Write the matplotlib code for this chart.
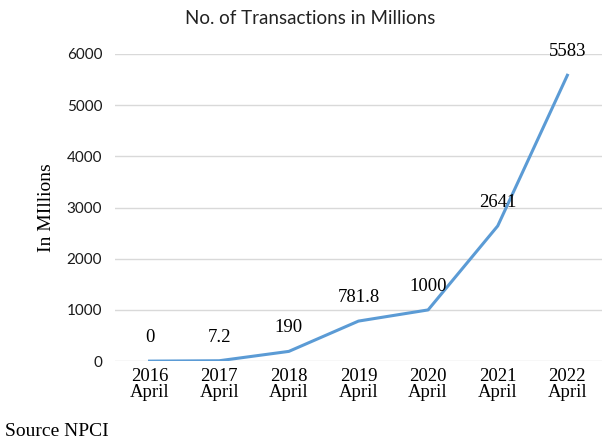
import matplotlib.pyplot as plt

years = ["2016\nApril", "2017\nApril", "2018\nApril", "2019\nApril",
         "2020\nApril", "2021\nApril", "2022\nApril"]
transactions = [0, 7.2, 190, 781.8, 1000, 2641, 5583]
point_labels = ["0", "7.2", "190", "781.8", "1000", "2641", "5583"]
yticks = [0, 1000, 2000, 3000, 4000, 5000, 6000]

fig = plt.figure(figsize=(6.04, 4.42), dpi=100)
ax = fig.add_axes([0.190, 0.183, 0.807, 0.695])

x = range(len(years))
ax.plot(x, transactions, color="#5b9bd5", linewidth=2.2, zorder=3)

# data labels above each point
for i, (v, lab) in enumerate(zip(transactions, point_labels)):
    ax.annotate(lab, (i, v), xytext=(0, 17), textcoords="offset points",
                ha="center", va="center", fontsize=13.5,
                family="Liberation Serif", color="black")

ax.set_xlim(-0.5, len(years) - 0.5)
ax.set_ylim(0, 6000)
ax.set_yticks(yticks)
ax.set_yticklabels([str(t) for t in yticks], family="Lato", fontsize=11, color="#1a1a1a")
ax.set_xticks(list(x))
ax.set_xticklabels(years, family="Liberation Serif", fontsize=13.5, linespacing=0.9)
ax.tick_params(axis="both", length=0)
ax.tick_params(axis="y", pad=9)
ax.tick_params(axis="x", pad=5)

ax.grid(axis="y", color="#d9d9d9", linewidth=1)
ax.set_axisbelow(True)
for s in ax.spines.values():
    s.set_visible(False)

ax.set_ylabel("In MIllions", family="Liberation Serif", fontsize=14)
ax.yaxis.set_label_coords(-0.122, 0.5)

fig.text(0.513, 0.958, "No. of Transactions in Millions", ha="center", va="center",
         family="Lato", fontsize=13.5, color="#222222")
fig.text(0.008, 0.024, "Source NPCI", ha="left", va="center",
         family="Liberation Serif", fontsize=14)

fig.savefig("out.png", dpi=100)
